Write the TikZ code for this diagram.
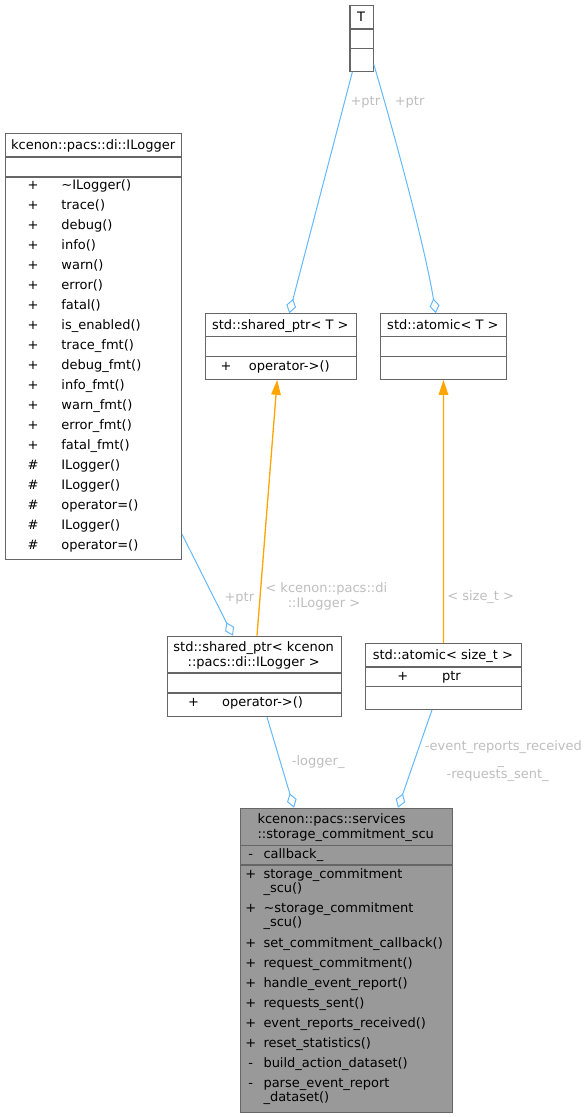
\documentclass[tikz,border=0pt]{standalone}
\usepackage{fontspec}
\setmainfont{DejaVu Sans}
\usetikzlibrary{arrows.meta,calc}
\definecolor{bord}{HTML}{666666}
\definecolor{edgeblue}{HTML}{63B8FF}
\definecolor{edgeorange}{HTML}{FFA500}
\definecolor{lblgray}{HTML}{BEBEBE}
\definecolor{scufill}{HTML}{999999}
\tikzset{
  x=1pt,y=-1pt,
  every node/.style={font=\fontsize{13}{14}\selectfont, inner sep=0pt, text=black},
  classbox/.style={draw=bord, line width=1.1pt, anchor=north west, minimum width=#1},
  rowline/.style={draw=bord, line width=1.1pt},
  txt/.style={anchor=base west},
  sym/.style={anchor=base},
  ttl/.style={anchor=base},
  lbl/.style={anchor=base, text=lblgray},
  agg/.style={draw=edgeblue, line width=1pt, -{Diamond[open,length=15pt,width=10pt,line width=1pt]}},
  inh/.style={draw=edgeorange, line width=1.3pt, -{Triangle[length=15pt,width=9.5pt]}},
}
\begin{document}
\begin{tikzpicture}
\useasboundingbox (0,0) rectangle (586,1117);

% ---- T ----
\node[classbox=23.3pt, minimum height=65.7pt] (T) at (349.4,5) {};
\draw[rowline] (349.4,29) -- (372.7,29);
\draw[rowline] (349.4,48.7) -- (372.7,48.7);
\node[ttl] (Tt) at (361,21) {T};

% ---- ILogger ----
\node[classbox=175.7pt, minimum height=425.7pt] (IL) at (5.3,133) {};
\draw[rowline] (5.3,157) -- (181,157);
\draw[rowline] (5.3,177) -- (181,177);
\node[ttl] (ILt) at (93.1,149.5) {kcenon::pacs::di::ILogger};
\foreach \s/\n [count=\i from 0] in {+/\textasciitilde ILogger(), +/trace(), +/debug(), +/info(), +/warn(), +/error(), +/fatal(), +/is\_enabled(), +/trace\_fmt(), +/debug\_fmt(), +/info\_fmt(), +/warn\_fmt(), +/error\_fmt(), +/fatal\_fmt(), \#/ILogger(), \#/ILogger(), \#/operator=(), \#/ILogger(), \#/operator=()} {
  \node[sym] (ILs\i) at (33,189.5+20*\i) {\s};
  \node[txt] (ILm\i) at (61.2,189.5+20*\i) {\n};
}

% ---- shared_ptr<T> ----
\node[classbox=150.7pt, minimum height=65.4pt] (SPT) at (205,313.3) {};
\draw[rowline] (205,336.7) -- (355.7,336.7);
\draw[rowline] (205,356.7) -- (355.7,356.7);
\node[ttl] (SPTt) at (280.3,329.5) {std::shared\_ptr< T >};
\node[sym] (SPTs) at (226,370) {+};
\node[txt] (SPTm) at (248.7,370) {operator->()};

% ---- atomic<T> ----
\node[classbox=126.2pt, minimum height=65.4pt] (AT) at (379.8,313.3) {};
\draw[rowline] (379.8,336.7) -- (506,336.7);
\draw[rowline] (379.8,356.7) -- (506,356.7);
\node[ttl] (ATt) at (442.9,329.5) {std::atomic< T >};

% ---- shared_ptr<ILogger> ----
\node[classbox=173.9pt, minimum height=80.3pt] (SPL) at (166.8,635.7) {};
\draw[rowline] (166.8,673) -- (340.7,673);
\draw[rowline] (166.8,693) -- (340.7,693);
\node[ttl] (SPLt1) at (253.7,651.8) {std::shared\_ptr< kcenon};
\node[ttl] (SPLt2) at (253.7,666.8) {::pacs::di::ILogger >};
\node[sym] (SPLs) at (193.5,706.5) {+};
\node[txt] (SPLm) at (222,706.5) {operator->()};

% ---- atomic<size_t> ----
\node[classbox=155.7pt, minimum height=65.7pt] (AS) at (365,643) {};
\draw[rowline] (365,667) -- (520.7,667);
\draw[rowline] (365,686.7) -- (520.7,686.7);
\node[ttl] (ASt) at (442.9,659.5) {std::atomic< size\_t >};
\node[sym] (ASs) at (402.7,680) {+};
\node[txt] (ASm) at (441.8,680) {ptr};

% ---- storage_commitment_scu ----
\node[classbox=211.7pt, minimum height=304pt, fill=scufill] (SCU) at (240,807.7) {};
\draw[rowline] (240,845.3) -- (451.7,845.3);
\draw[rowline] (240,865) -- (451.7,865);
\node[txt] (SCUt1) at (257.3,823.5) {kcenon::pacs::services};
\node[txt] (SCUt2) at (257.3,838.3) {::storage\_commitment\_scu};
\node[sym] (SCUa) at (250.7,858.3) {-};
\node[txt] (SCUat) at (263.3,858.3) {callback\_};
\node[sym] (SCUs0) at (250.7,878.5) {+};
\node[txt] (SCUm0a) at (263.3,878.5) {storage\_commitment};
\node[txt] (SCUm0b) at (263.3,892.5) {\_scu()};
\node[sym] (SCUs1) at (250.7,912.5) {+};
\node[txt] (SCUm1a) at (263.3,912.5) {\textasciitilde storage\_commitment};
\node[txt] (SCUm1b) at (263.3,926.5) {\_scu()};
\foreach \s/\n [count=\i from 0] in {+/set\_commitment\_callback(), +/request\_commitment(), +/handle\_event\_report(), +/requests\_sent(), +/event\_reports\_received(), +/reset\_statistics(), -/build\_action\_dataset()} {
  \node[sym] (SCUx\i) at (250.7,947.5+20*\i) {\s};
  \node[txt] (SCUy\i) at (263.3,947.5+20*\i) {\n};
}
\node[sym] (SCUs9) at (250.7,1087.5) {-};
\node[txt] (SCUm9a) at (263.3,1087.5) {parse\_event\_report};
\node[txt] (SCUm9b) at (263.3,1101.8) {\_dataset()};

% ---- connectors ----
\draw[agg] ([xshift=3pt]T.south west) -- ([xshift=84.3pt]SPT.north west);
\draw[agg] ([yshift=7.4pt]T.south east) .. controls (380,85) and (422,230) .. ([xshift=56pt]AT.north west);
\draw[agg] ([yshift=25.4pt]IL.south east) -- ([xshift=66.2pt]SPL.north west);
\draw[inh] ([xshift=90.2pt]SPL.north west) -- ([xshift=72.2pt]SPT.south west);
\draw[inh] (AS.north) -- (AT.south);
\draw[agg] ([xshift=100.2pt]SPL.south west) -- ([xshift=54pt]SCU.north west);
\draw[agg] ([xshift=67pt]AS.south west) -- ([xshift=158pt]SCU.north west);

% ---- labels ----
\node[lbl] (l1) at (365.3,105) {+ptr};
\node[lbl] (l2) at (409.6,105) {+ptr};
\node[lbl] (l3) at (239.3,601) {+ptr};
\node[lbl] (l4a) at (326.3,592.5) {< kcenon::pacs::di};
\node[lbl] (l4b) at (324,607.5) {::ILogger >};
\node[lbl] (l5) at (480.7,600.5) {< size\_t >};
\node[lbl] (l6) at (318.2,765) {-logger\_};
\node[lbl] (l7a) at (503.4,750.8) {-event\_reports\_received};
\node[lbl] (l7b) at (500.8,764.8) {\_};
\node[lbl] (l7c) at (497.7,778.8) {-requests\_sent\_};
\end{tikzpicture}
\end{document}
